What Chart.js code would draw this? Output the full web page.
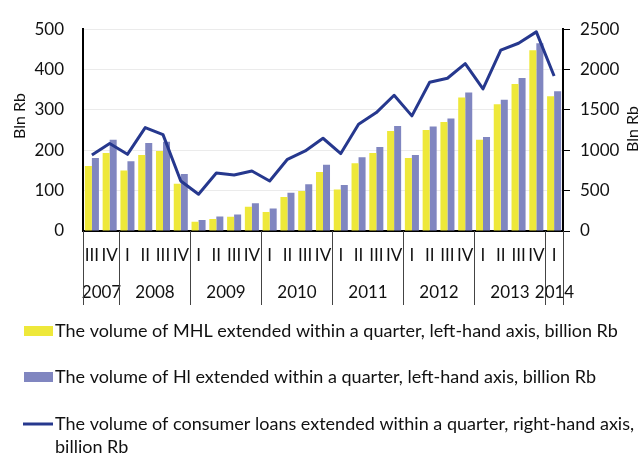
<!DOCTYPE html>
<html>
<head>
<meta charset="utf-8">
<script src="https://cdn.jsdelivr.net/npm/chart.js@4.4.0/dist/chart.umd.min.js"></script>
<style>
  html, body { margin: 0; padding: 0; background: #fff; }
  #wrap { width: 640px; height: 453px; }
</style>
</head>
<body>
<div id="wrap"><canvas id="loansChart" width="640" height="453"></canvas></div>
<script>
// quarters 2007 III .. 2014 I
const quarters = ['III', 'IV',
  'I', 'II', 'III', 'IV', 'I', 'II', 'III', 'IV', 'I', 'II', 'III', 'IV',
  'I', 'II', 'III', 'IV', 'I', 'II', 'III', 'IV', 'I', 'II', 'III', 'IV',
  'I'];
const years = ['2007', '2008', '2009', '2010', '2011', '2012', '2013', '2014'];
const quartersPerYear = [2, 4, 4, 4, 4, 4, 4, 1];

// billion Rb
const mhlVolume = [161, 193, 150, 188, 198, 117, 23, 30, 35, 60, 47, 84, 99, 146,
  103, 168, 193, 248, 181, 250, 270, 331, 226, 314, 364, 448, 334];
const hlVolume = [181, 226, 173, 218, 221, 141, 27, 36, 41, 69, 56, 95, 116, 164,
  114, 183, 208, 260, 188, 259, 279, 343, 233, 325, 379, 465, 346];
const consumerLoans = [942, 1083, 950, 1281, 1194, 620, 455, 719, 694, 744, 620, 888, 992, 1149,
  959, 1322, 1467, 1682, 1426, 1843, 1892, 2074, 1760, 2240, 2326, 2467, 1921];

const legendLabels = [
  ['The volume of MHL extended within a quarter, left-hand axis, billion Rb'],
  ['The volume of Hl extended within a quarter, left-hand axis, billion Rb'],
  ['The volume of consumer loans extended within a quarter, right-hand axis,', 'billion Rb']
];

const labels = [];
let qi = 0;
years.forEach((y, k) => {
  for (let j = 0; j < quartersPerYear[k]; j++) { labels.push(y + ' ' + quarters[qi]); qi++; }
});

const FONT = "'Lato', sans-serif";
const TEXT = '#111';
const YELLOW = 'rgb(238, 232, 58)';
const LAVENDER = 'rgb(128, 134, 192)';
const NAVY = 'rgb(38, 56, 142)';

// quarter / year labels under the axis, axis titles and the legend
const extraText = {
  id: 'extraText',
  afterDraw(chart) {
    const ctx = chart.ctx;
    const x = chart.scales.x;
    const area = chart.chartArea;
    const step = x.width / labels.length;
    ctx.save();
    ctx.fillStyle = TEXT;
    ctx.font = `17px ${FONT}`;
    ctx.textAlign = 'center';
    ctx.textBaseline = 'middle';

    quarters.forEach((q, i) => ctx.fillText(q, x.getPixelForValue(i), 256));

    ctx.strokeStyle = '#444';
    ctx.lineWidth = 1;
    let start = 0;
    const edge = (i) => Math.round(x.getPixelForValue(i) - step / 2) + 0.5;
    ctx.beginPath();
    ctx.moveTo(edge(0), area.bottom); ctx.lineTo(edge(0), 305);
    years.forEach((y, k) => {
      const end = start + quartersPerYear[k];
      const x0 = edge(start), x1 = edge(end);
      ctx.fillText(y, (x0 + x1) / 2, 293);
      ctx.moveTo(x1, area.bottom); ctx.lineTo(x1, 305);
      start = end;
    });
    ctx.stroke();

    // axis titles
    ctx.font = `16px ${FONT}`;
    ctx.save();
    ctx.translate(20, 116);
    ctx.rotate(-Math.PI / 2);
    ctx.fillText('Bln Rb', 0, 0);
    ctx.restore();
    ctx.save();
    ctx.translate(633, 129);
    ctx.rotate(-Math.PI / 2);
    ctx.fillText('Bln Rb', 0, 0);
    ctx.restore();

    // legend
    ctx.textAlign = 'left';
    ctx.font = `18px ${FONT}`;
    const rows = [331, 377, 424];
    ctx.fillStyle = YELLOW;
    ctx.fillRect(24, rows[0] - 5, 29, 10);
    ctx.fillStyle = LAVENDER;
    ctx.fillRect(24, rows[1] - 5, 29, 10);
    ctx.strokeStyle = NAVY;
    ctx.lineWidth = 3;
    ctx.beginPath();
    ctx.moveTo(23, rows[2]); ctx.lineTo(53, rows[2]);
    ctx.stroke();
    ctx.fillStyle = TEXT;
    legendLabels.forEach((lines, i) => {
      lines.forEach((t, j) => ctx.fillText(t, 55, rows[i] + j * 23));
    });
    ctx.restore();
  }
};

const ctx = document.getElementById('loansChart').getContext('2d');

const loansChart = new Chart(ctx, {
  type: 'bar',
  data: {
    labels: labels,
    datasets: [
      {
        label: legendLabels[2].join(' '),
        type: 'line',
        data: consumerLoans,
        yAxisID: 'y2',
        borderColor: NAVY,
        borderWidth: 3,
        pointRadius: 0,
        tension: 0,
        borderJoinStyle: 'round',
        order: 0
      },
      {
        label: legendLabels[0][0],
        data: mhlVolume,
        yAxisID: 'y',
        backgroundColor: YELLOW,
        categoryPercentage: 0.79,
        barPercentage: 1.0,
        order: 1
      },
      {
        label: legendLabels[1][0],
        data: hlVolume,
        yAxisID: 'y',
        backgroundColor: LAVENDER,
        categoryPercentage: 0.79,
        barPercentage: 1.0,
        order: 1
      }
    ]
  },
  options: {
    responsive: false,
    animation: false,
    layout: { padding: { top: 28, right: 0, bottom: 0, left: 0 } },
    plugins: {
      legend: { display: false },
      tooltip: { enabled: false }
    },
    scales: {
      x: {
        grid: { display: false },
        border: { color: '#000', width: 2 },
        ticks: { display: false },
        afterFit(scale) { scale.height = 222; }
      },
      y: {
        position: 'left',
        min: 0,
        max: 500,
        ticks: { stepSize: 100, padding: 19, color: TEXT, font: { size: 17, family: FONT } },
        grid: { color: '#ebebeb', lineWidth: 1, drawTicks: false },
        border: { color: '#000', width: 2 },
        afterFit(scale) { scale.width = 83; }
      },
      y2: {
        position: 'right',
        min: 0,
        max: 2500,
        ticks: {
          stepSize: 500, padding: 10, color: TEXT, font: { size: 17, family: FONT },
          callback: (v) => String(v)
        },
        grid: { drawOnChartArea: false, drawTicks: true, tickLength: 7, color: '#000' },
        border: { color: '#000', width: 2 },
        afterFit(scale) { scale.width = 77; }
      }
    }
  },
  plugins: [extraText]
});
</script>
</body>
</html>
